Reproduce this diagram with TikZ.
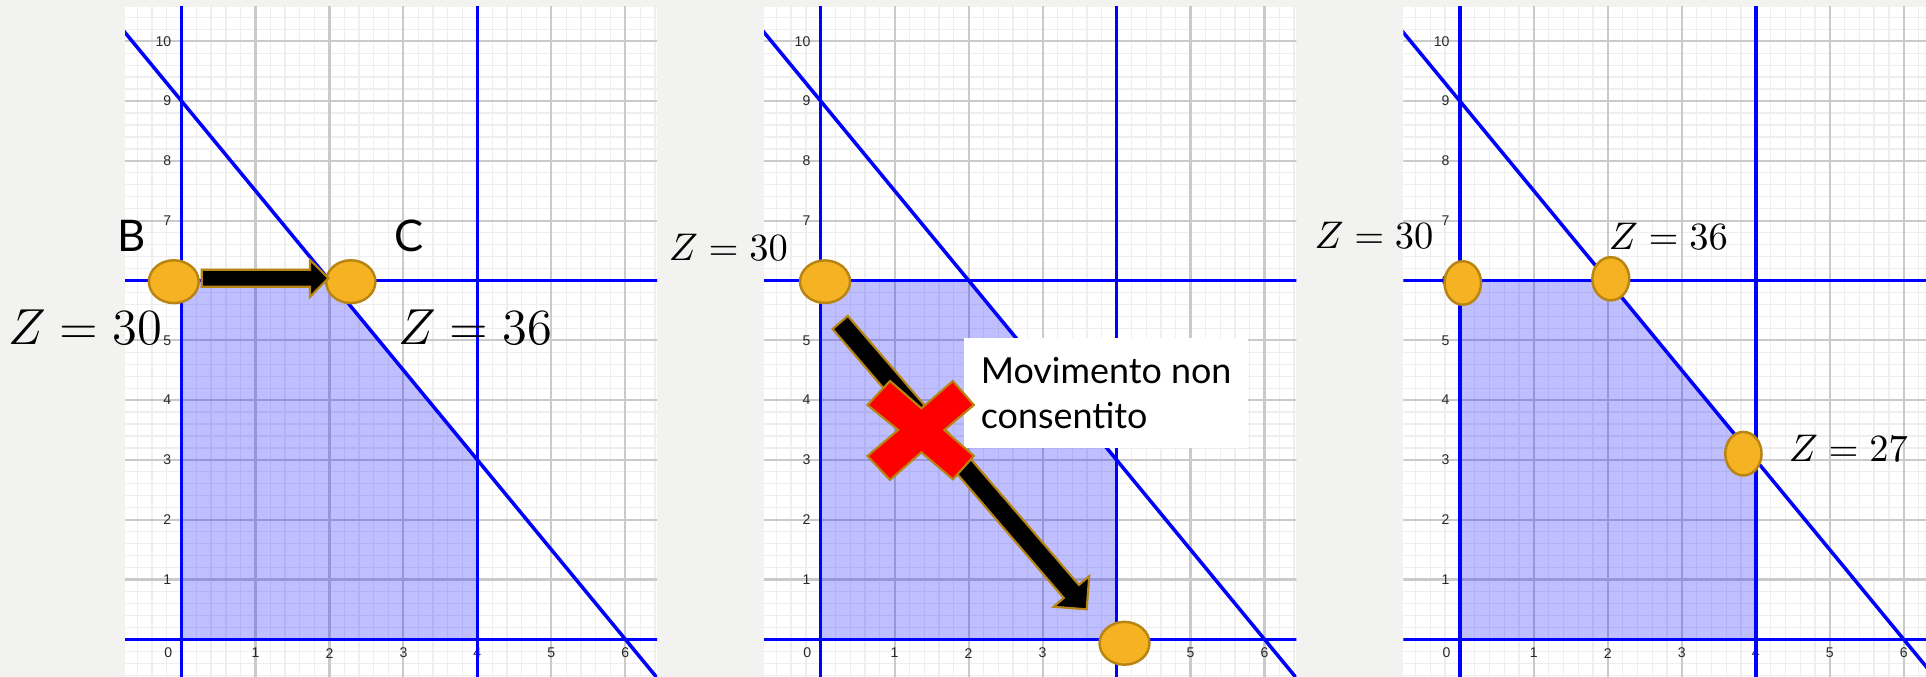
\documentclass[tikz,border=0pt]{standalone}
\usepackage{fontspec}
\newfontfamily\lato{Lato}
\newfontfamily\arialf{Liberation Sans}
\usetikzlibrary{calc,shapes.geometric}
\definecolor{bgc}{RGB}{242,242,240}
\definecolor{minorc}{RGB}{238,238,238}
\definecolor{majorc}{RGB}{202,202,202}
\definecolor{dotfill}{RGB}{245,178,35}
\definecolor{dotline}{RGB}{184,132,18}
\definecolor{ticktxt}{RGB}{40,40,40}
\tikzset{
  minorgrid/.style={draw=minorc, line width=0.35pt},
  majorgrid/.style={draw=majorc, line width=0.6pt},
  region/.style={fill=blue, fill opacity=0.25},
  bluel/.style={draw=blue, line width=1pt},
  ticklab/.style={font=\arialf\fontsize{4}{5}\selectfont, text=ticktxt, inner sep=0pt},
  dot/.style={ellipse, draw=dotline, fill=dotfill, line width=0.7pt, inner sep=0pt},
  bigz/.style={font=\fontsize{14.1}{17}\selectfont, inner sep=0pt, anchor=base},
  smallz/.style={font=\fontsize{11}{13}\selectfont, inner sep=0pt, anchor=base},
  letter/.style={font=\lato\fontsize{12.4}{15}\selectfont, inner sep=0pt, anchor=base},
  blockarr/.style={fill=black, draw=dotline, line width=0.6pt, line join=miter},
  nogo/.style={fill=red, draw=dotline, line width=0.6pt, line join=miter},
  msgbox/.style={fill=white, inner sep=0pt, align=left, font=\lato\fontsize{10.2}{12.8}\selectfont}
}
\newcommand\panelbase[1]{%
  \fill[white] (-0.763,-0.7) rectangle (6.43,10.577);
  \begin{scope}
    \clip (-0.763,-0.7) rectangle (6.43,10.577);
    \foreach \i in {-3,...,32} \draw[minorgrid] (\i*0.2,-0.8) -- (\i*0.2,10.7);
    \foreach \j in {-3,...,52} \draw[minorgrid] (-0.8,\j*0.2) -- (6.5,\j*0.2);
    \foreach \i in {0,...,6} \draw[majorgrid] (\i,-0.8) -- (\i,10.7);
    \foreach \j in {0,...,10} \draw[majorgrid] (-0.8,\j) -- (6.5,\j);
    \fill[region] (0,0) -- (0,6) -- (2,6) -- (4,3) -- (4,0) -- cycle;
    \node[ticklab] (#1x0) at (-0.18,-0.23) {0};
    \foreach \i in {1,...,6} \node[ticklab] (#1x\i) at (\i,-0.23) {\i};
    \foreach \j in {1,...,10} \node[ticklab, anchor=east] (#1y\j) at (-0.13,\j) {\j};
    \draw[bluel] (0,-0.8) -- (0,10.7);
    \draw[bluel] (-0.8,0) -- (6.5,0);
    \draw[bluel] (4,-0.8) -- (4,10.7);
    \draw[bluel] (-0.8,6) -- (6.5,6);
    \draw[bluel] (-1.2,10.8) -- (6.5,-0.75);
  \end{scope}
}
\newcommand\blockarrow[6]{%
  \coordinate (#1hb) at ($(#3)!#6!(#2)$);
  \draw[blockarr] ($(#2)!#4!90:(#3)$) -- ($(#1hb)!#4!90:(#3)$) -- ($(#1hb)!#5!90:(#3)$) -- (#3)
    -- ($(#1hb)!#5!-90:(#3)$) -- ($(#1hb)!#4!-90:(#3)$) -- ($(#2)!#4!-90:(#3)$) -- cycle;
}
\begin{document}
\begin{tikzpicture}[x=0.01cm, y=-0.01cm]
\fill[bgc] (0,0) rectangle (1926,677);
\useasboundingbox (0,0) rectangle (1926,677);
\clip (0,0) rectangle (1926,677);

% panels
\begin{scope}[shift={(1.814cm,-6.39cm)}, x=0.7393cm, y=0.5978cm]
  \panelbase{pa}
\end{scope}
\begin{scope}[shift={(8.202cm,-6.39cm)}, x=0.7393cm, y=0.5978cm]
  \panelbase{pb}
\end{scope}
\begin{scope}[shift={(14.590cm,-6.39cm)}, x=0.7393cm, y=0.5978cm]
  \panelbase{pc}
\end{scope}

% ---- panel 1
\node[dot, minimum width=0.498cm, minimum height=0.428cm] (B1) at (173.8,281.7) {};
\node[dot, minimum width=0.492cm, minimum height=0.428cm] (C1) at (350.8,281.7) {};
\coordinate (a1s) at (201.7,278.3);
\coordinate (a1e) at (328.3,278.3);
\blockarrow{a1}{a1s}{a1e}{0.085cm}{0.185cm}{0.183cm}
\node[letter] (lb) at (132,251.7) {B};
\node[letter] (lc) at (409,251.7) {C};
\node[bigz] (z1a) at (85,345) {$Z = 30$};
\node[bigz] (z1b) at (475,345) {$Z = 36$};

% ---- panel 2
\node[msgbox, minimum width=2.836cm, minimum height=1.106cm] (msg) at (1106.1,393) {Movimento non\\consentito};
\node[dot, minimum width=0.50cm, minimum height=0.425cm] (B2) at (825,281.7) {};
\node[dot, minimum width=0.499cm, minimum height=0.428cm] (D2) at (1124.5,643.3) {};
\coordinate (a2s) at (840.2,322.5);
\coordinate (a2e) at (1086.7,609.3);
\blockarrow{a2}{a2s}{a2e}{0.1cm}{0.235cm}{0.235cm}
\draw[nogo] (890,381) -- (921.4,408.3) -- (952.9,381) -- (973.9,405) -- (944.3,430)
  -- (973.9,456) -- (952.9,479.3) -- (921.4,452.3) -- (890,480) -- (867.5,456)
  -- (898.2,430) -- (867.5,405) -- cycle;
\node[smallz] (z2a) at (728.4,260.7) {$Z = 30$};

% ---- panel 3
\node[dot, minimum width=0.365cm, minimum height=0.435cm] (B3) at (1462.8,283) {};
\node[dot, minimum width=0.369cm, minimum height=0.432cm] (C3) at (1610.8,278.8) {};
\node[dot, minimum width=0.363cm, minimum height=0.435cm] (D3) at (1743.4,453.7) {};
\node[smallz] (z3a) at (1374,248.3) {$Z = 30$};
\node[smallz] (z3b) at (1668.4,250) {$Z = 36$};
\node[smallz] (z3c) at (1848.4,461.7) {$Z = 27$};
\end{tikzpicture}
\end{document}
